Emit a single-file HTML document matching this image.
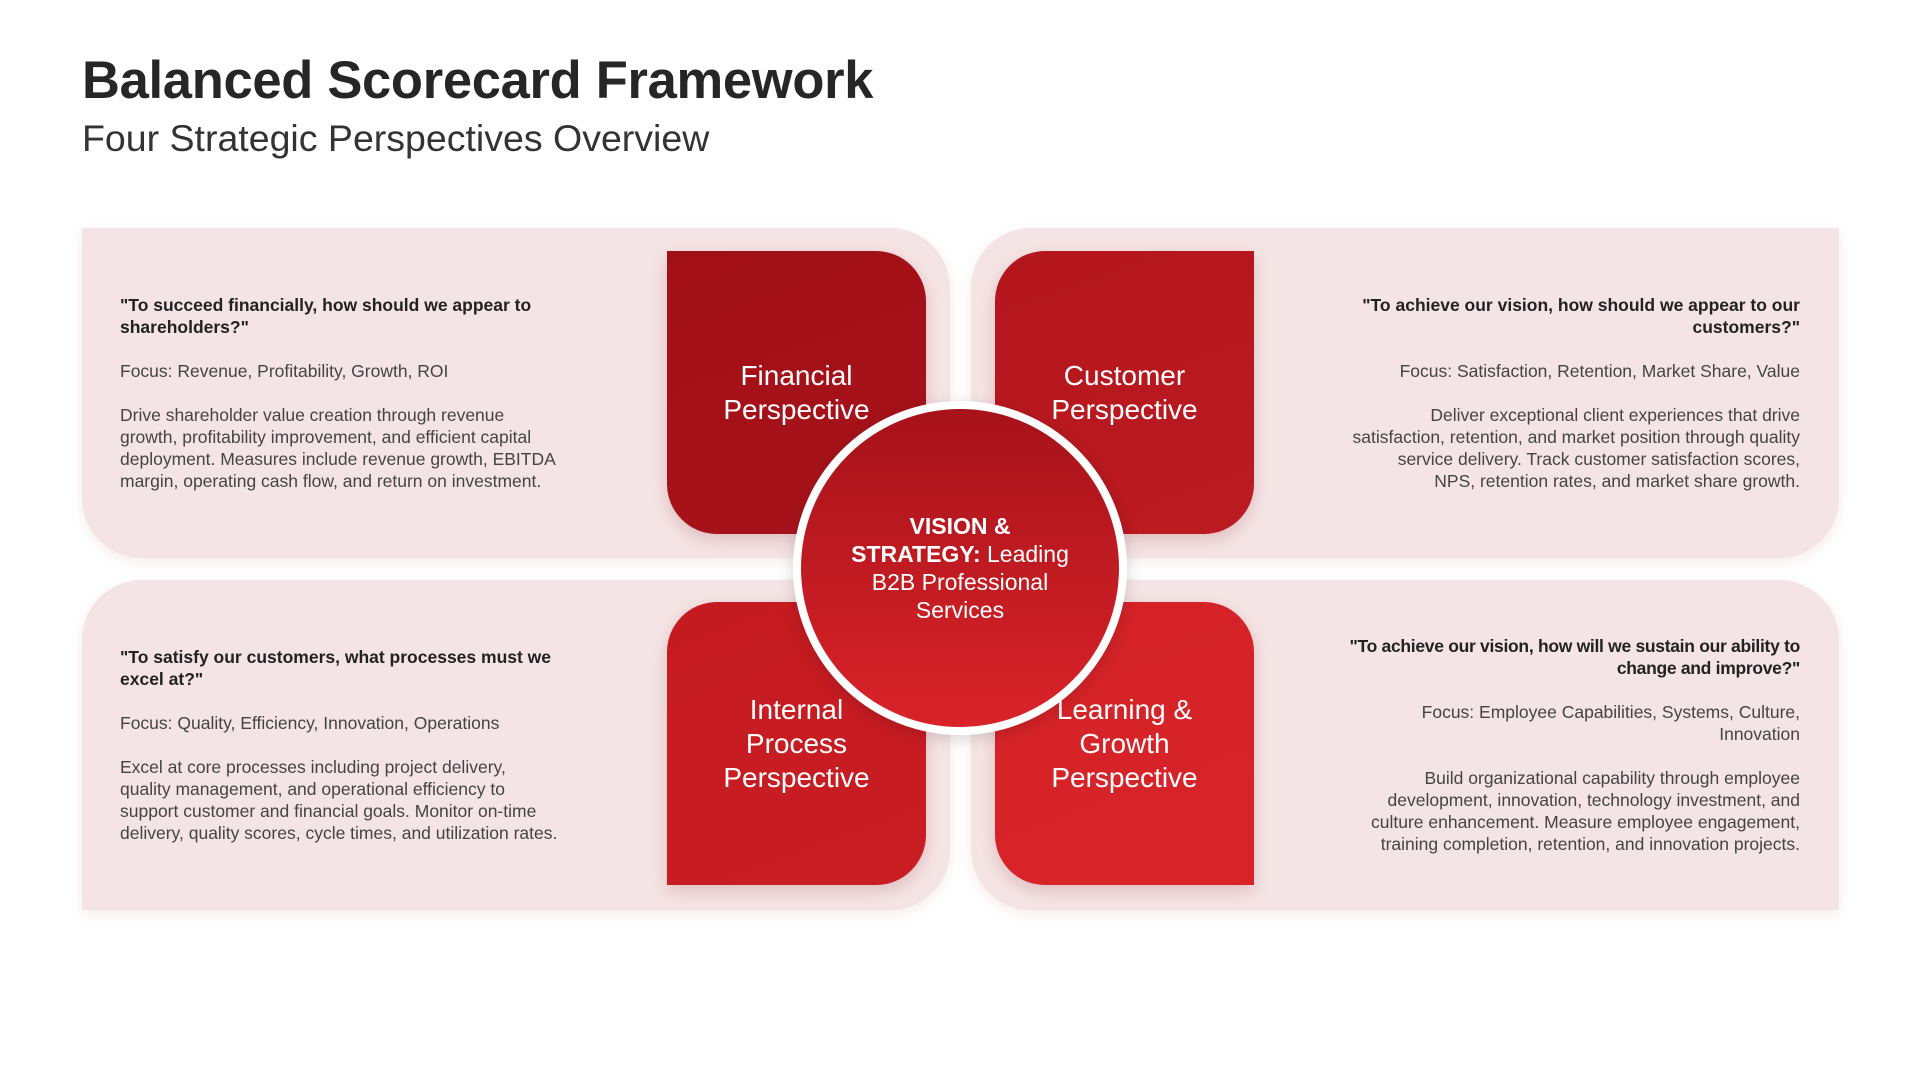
<!DOCTYPE html>
<html><head><meta charset="utf-8"><style>
*{margin:0;padding:0;box-sizing:border-box}
body{width:1920px;height:1080px;background:#fff;font-family:"Liberation Sans",sans-serif;position:relative;overflow:hidden}
h1{position:absolute;left:82px;top:50px;font-size:52.5px;font-weight:700;color:#262626;letter-spacing:-0.3px}
h2{position:absolute;left:82px;top:117px;font-size:37.5px;font-weight:400;color:#333}
.panel{position:absolute;width:868px;height:330px;background:#f5e4e5;box-shadow:0 4px 14px rgba(180,100,100,0.12);display:flex;align-items:center}
.tl{left:82px;top:228px;border-radius:0 60px 0 60px}
.tr{left:971px;top:228px;border-radius:60px 0 60px 0;justify-content:flex-end}
.bl{left:82px;top:580px;border-radius:60px 0 60px 0}
.br{left:971px;top:580px;border-radius:0 60px 0 60px;justify-content:flex-end}
.txt{width:440px;font-size:17.5px;line-height:22px;color:#444}
.tl .txt,.bl .txt{margin-left:38px}
.tr .txt,.br .txt{margin-right:39px;text-align:right;width:466px}
.q{color:#222;font-weight:700;font-size:17.5px;margin-bottom:22px}
.f{margin-bottom:22px}
.box{position:absolute;width:259px;height:283px;display:flex;align-items:center;justify-content:center;text-align:center;color:#fff;font-size:28px;line-height:34px;box-shadow:0 6px 16px rgba(120,20,20,0.18)}
.b1{left:667px;top:251px;background:linear-gradient(160deg,#a10f17,#a8131b);border-radius:0 50px 0 50px}
.b2{left:995px;top:251px;background:linear-gradient(160deg,#b4161d,#bb1a20);border-radius:50px 0 50px 0}
.b3{left:667px;top:602px;background:linear-gradient(160deg,#c41b21,#c91d23);border-radius:50px 50px 50px 0}
.b4{left:995px;top:602px;background:linear-gradient(160deg,#d32228,#d82429);border-radius:50px 50px 0 50px}
.circle{position:absolute;left:793px;top:401px;width:334px;height:334px;border-radius:50%;border:8px solid #fff;background:linear-gradient(180deg,#a7121a,#d92329);display:flex;align-items:center;justify-content:center;text-align:center;color:#fff;font-size:23px;line-height:28px;box-shadow:0 4px 16px rgba(0,0,0,0.15)}
.circle div{width:230px}
</style></head><body>
<h1>Balanced Scorecard Framework</h1>
<h2>Four Strategic Perspectives Overview</h2>

<div class="panel tl"><div class="txt"><div class="q">"To succeed financially, how should we appear to shareholders?"</div><div class="f">Focus: Revenue, Profitability, Growth, ROI</div><div>Drive shareholder value creation through revenue growth, profitability improvement, and efficient capital deployment. Measures include revenue growth, EBITDA margin, operating cash flow, and return on investment.</div></div></div>

<div class="panel tr"><div class="txt"><div class="q">"To achieve our vision, how should we appear to our customers?"</div><div class="f">Focus: Satisfaction, Retention, Market Share, Value</div><div>Deliver exceptional client experiences that drive satisfaction, retention, and market position through quality service delivery. Track customer satisfaction scores,<br>NPS, retention rates, and market share growth.</div></div></div>

<div class="panel bl"><div class="txt"><div class="q">"To satisfy our customers, what processes must we excel at?"</div><div class="f">Focus: Quality, Efficiency, Innovation, Operations</div><div>Excel at core processes including project delivery, quality management, and operational efficiency to support customer and financial goals. Monitor on-time delivery, quality scores, cycle times, and utilization rates.</div></div></div>

<div class="panel br"><div class="txt"><div class="q" style="letter-spacing:-0.3px">"To achieve our vision, how will we sustain our ability to<br>change and improve?"</div><div class="f">Focus: Employee Capabilities, Systems, Culture,<br>Innovation</div><div>Build organizational capability through employee development, innovation, technology investment, and culture enhancement. Measure employee engagement, training completion, retention, and innovation projects.</div></div></div>

<div class="box b1"><div>Financial<br>Perspective</div></div>
<div class="box b2"><div>Customer<br>Perspective</div></div>
<div class="box b3"><div>Internal<br>Process<br>Perspective</div></div>
<div class="box b4"><div>Learning &amp;<br>Growth<br>Perspective</div></div>

<div class="circle"><div><b>VISION &amp; STRATEGY:</b> Leading B2B Professional Services</div></div>
</body></html>
